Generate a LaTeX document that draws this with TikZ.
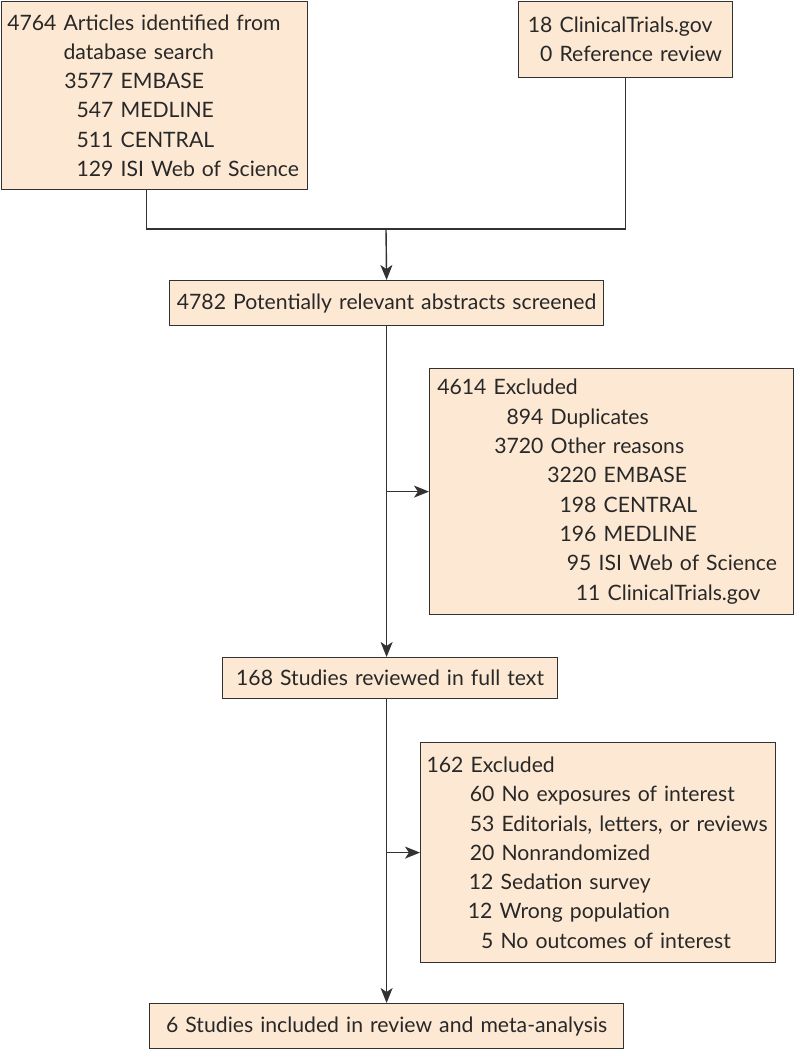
\documentclass[tikz,border=0pt]{standalone}
\usepackage{fontspec}
\setmainfont{Lato}
\usetikzlibrary{calc,arrows.meta,positioning}

\definecolor{boxfill}{RGB}{253,233,211}
\definecolor{boxline}{RGB}{50,50,50}
\definecolor{ink}{RGB}{40,40,40}
\tikzset{box/.style={draw=boxline,fill=boxfill,line width=1.2pt,inner sep=0pt,anchor=north west,text=ink,align=left,font=\fontsize{21.2}{29.3}\selectfont},
  boxw/.style={minimum width=#1,text width=#1},
  link/.style={draw=boxline,line width=1.4pt},
  arr/.style={-{Stealth[length=15pt,width=12pt,inset=4pt]}}}
% number right-aligned before the label, label starts at #1
\newcommand{\entry}[3]{\mbox{\makebox[#1pt][r]{#2~}#3}}

\begin{document}
\begin{tikzpicture}[x=1pt,y=1pt]
\useasboundingbox (0,0) rectangle (795,-1050);

% Sources
\node[box,boxw=306pt,minimum height=188pt] (search) at (1,-1) {%
  \entry{62}{4764}{Articles identified from}\\
  \entry{62}{}{database search}\\
  \entry{119}{3577}{EMBASE}\\
  \entry{119}{547}{MEDLINE}\\
  \entry{119}{511}{CENTRAL}\\
  \entry{119}{129}{ISI Web of Science}};
\node[box,boxw=214pt,minimum height=76pt] (other) at (518,-1) {%
  \entry{41}{18}{ClinicalTrials.gov}\\
  \entry{41}{0}{Reference review}};

% Main column
\node[box,boxw=434pt,minimum height=45pt,align=center] (screened) at (169,-280) {4782 Potentially relevant abstracts screened};
\node[box,boxw=335pt,minimum height=41pt,align=center] (fulltext) at (222,-657) {168 Studies reviewed in full text};
\node[box,boxw=474pt,minimum height=45pt,align=center] (included) at (149,-1003) {6 Studies included in review and meta-analysis};

% Exclusions
\node[box,boxw=364pt,minimum height=246pt] (excl1) at (429,-368) {%
  \entry{64}{4614}{Excluded}\\
  \entry{121}{894}{Duplicates}\\
  \entry{121}{3720}{Other reasons}\\
  \entry{174}{3220}{EMBASE}\\
  \entry{174}{198}{CENTRAL}\\
  \entry{174}{196}{MEDLINE}\\
  \entry{169}{95}{ISI Web of Science}\\
  \entry{178}{11}{ClinicalTrials.gov}};
\node[box,boxw=355pt,minimum height=220pt] (excl2) at (420,-742) {%
  \entry{50}{162}{Excluded}\\
  \entry{81}{60}{No exposures of interest}\\
  \entry{81}{53}{Editorials, letters, or reviews}\\
  \entry{81}{20}{Nonrandomized}\\
  \entry{80}{12}{Sedation survey}\\
  \entry{79}{12}{Wrong population}\\
  \entry{80}{5}{No outcomes of interest}};

% Connectors
\coordinate (join) at (386,-229);
\draw[link] ([xshift=-8pt]search.south) |- (join) -| (other.south);
\draw[link,arr] (join) -- (screened.north);
\draw[link,arr] (screened.south) -- (screened.south |- fulltext.north);
\draw[link,arr] (screened.south |- excl1.west) -- (excl1.west);
\draw[link,arr] (screened.south |- fulltext.south) -- (included.north);
\draw[link,arr] (screened.south |- excl2.west) -- (excl2.west);

\end{tikzpicture}
\end{document}
